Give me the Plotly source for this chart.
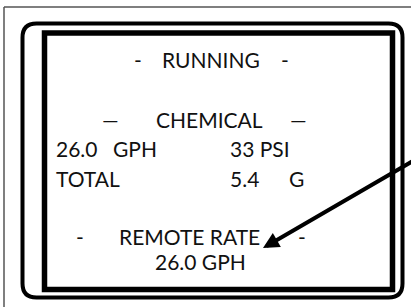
import plotly.graph_objects as go

W, H = 411, 307

# Display text items (content)
title_text = "RUNNING"
section_text = "CHEMICAL"
rate_value = "26.0"
rate_unit = "GPH"
pressure_text = "33 PSI"
total_label = "TOTAL"
total_value = "5.4"
total_unit = "G"
remote_label = "REMOTE RATE"
remote_value = "26.0 GPH"
dash = "-"
emdash = "\u2014"

# (text, x_left, y_center) layout
items = [
    (dash, 132, 59), (title_text, 160, 59), (dash, 279, 59),
    (emdash, 100, 119), (section_text, 154, 119), (emdash, 288, 119),
    (rate_value, 54, 148), (rate_unit, 111, 148), (pressure_text, 228, 148),
    (total_label, 54, 178), (total_value, 228, 178), (total_unit, 287, 178),
    (dash, 74, 236), (remote_label, 117, 236), (dash, 296, 236),
    (remote_value, 153, 261),
]

fig = go.Figure()
fig.add_trace(go.Scatter(x=[0, W], y=[0, H], mode="markers",
                         marker=dict(opacity=0), hoverinfo="skip", showlegend=False))

FONT = dict(family="Lato, Calibri, 'Open Sans', sans-serif", size=21, color="#111111")
ann = []
for t, x, y in items:
    ann.append(dict(x=x, y=y, xref="x", yref="y", text=t, showarrow=False,
                    xanchor="left", yanchor="middle", font=FONT))

# Arrow
ann.append(dict(x=263, y=248, ax=418, ay=158, xref="x", yref="y", axref="x", ayref="y",
                text="", showarrow=True, arrowhead=2, arrowsize=0.8, arrowwidth=4,
                arrowcolor="#000000", standoff=0))

shapes = []
# outer thin frame (top and left)
shapes.append(dict(type="line", x0=4, y0=7, x1=W + 2, y1=7, xref="x", yref="y",
                   line=dict(color="#555555", width=1.5)))
shapes.append(dict(type="line", x0=4, y0=7, x1=4, y1=H + 2, xref="x", yref="y",
                   line=dict(color="#555555", width=1.5)))

# rounded rectangle
x0, y0, x1, y1, r = 22.5, 23.5, 402.5, 297.5, 14
path = (f"M {x0+r},{y0} L {x1-r},{y0} Q {x1},{y0} {x1},{y0+r} L {x1},{y1-r} "
        f"Q {x1},{y1} {x1-r},{y1} L {x0+r},{y1} Q {x0},{y1} {x0},{y1-r} "
        f"L {x0},{y0+r} Q {x0},{y0} {x0+r},{y0} Z")
shapes.append(dict(type="path", path=path, xref="x", yref="y",
                   line=dict(color="#000000", width=4)))
# inner rectangle
shapes.append(dict(type="rect", x0=44.5, y0=33, x1=392.5, y1=289.5, xref="x", yref="y",
                   line=dict(color="#000000", width=5.5)))

fig.update_layout(
    width=W, height=H, margin=dict(l=0, r=0, t=0, b=0),
    paper_bgcolor="white", plot_bgcolor="white",
    xaxis=dict(range=[0, W], visible=False, fixedrange=True),
    yaxis=dict(range=[H, 0], visible=False, fixedrange=True),
    shapes=shapes, annotations=ann, showlegend=False,
)
fig.write_html("out.html", config={"displayModeBar": False},
               post_script="document.body.style.margin='0';document.body.style.overflow='hidden';")
